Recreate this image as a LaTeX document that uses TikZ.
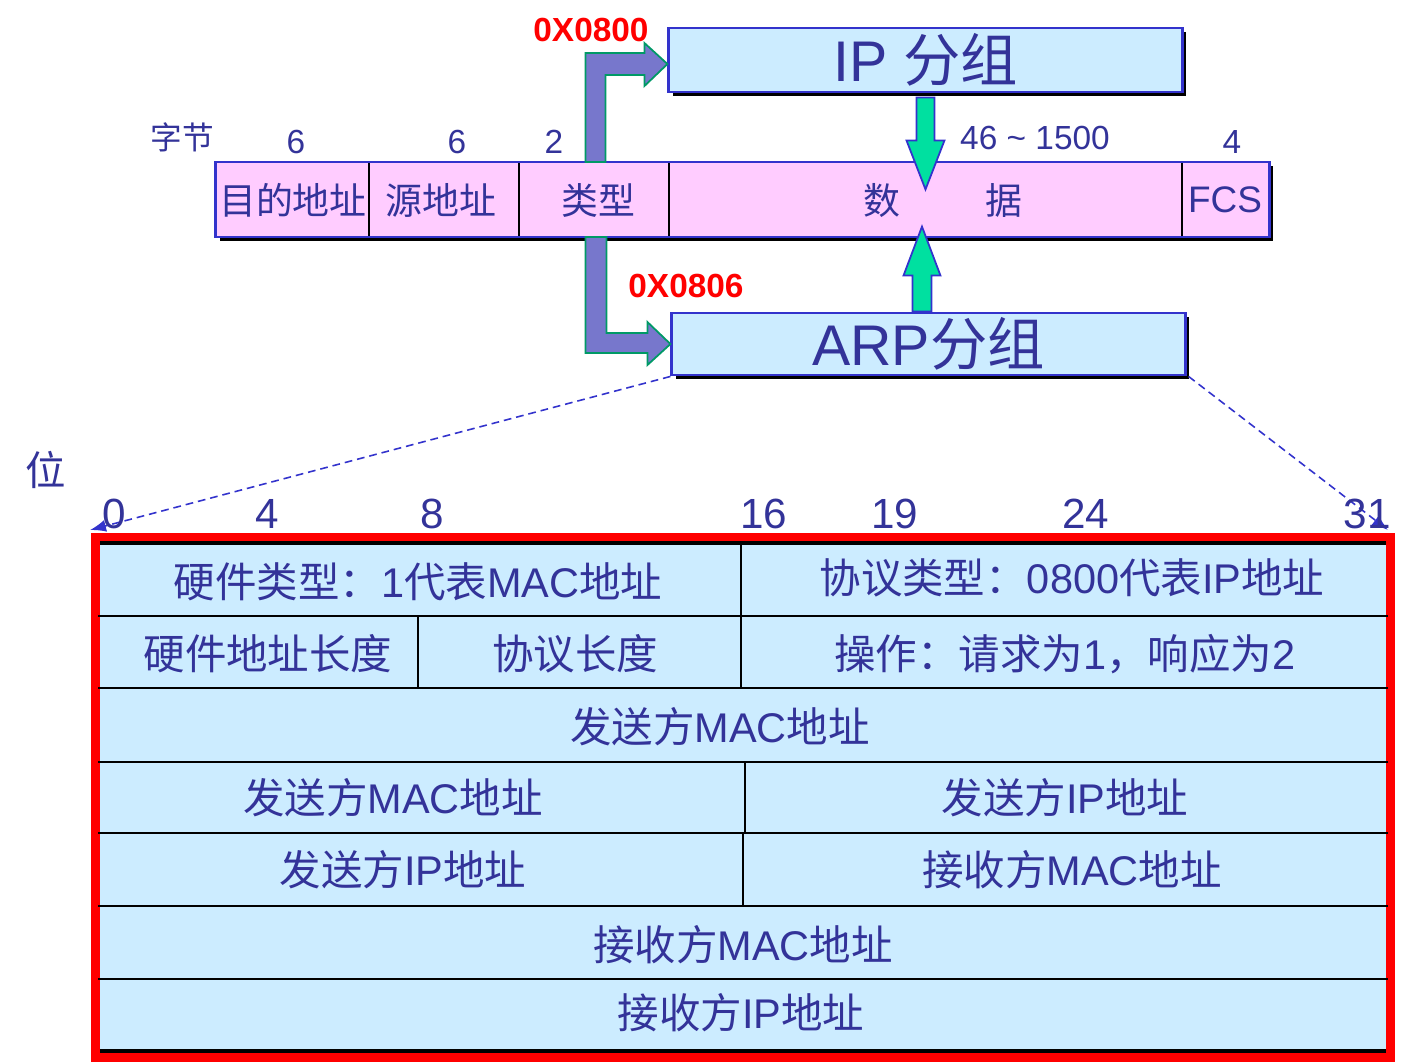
\documentclass[tikz,border=0pt]{standalone}
\usepackage{fontspec}
\setmainfont{Liberation Sans}
\newfontfamily\cjk{Noto Sans CJK SC}
\usetikzlibrary{arrows.meta, shadows}
\definecolor{txtblue}{RGB}{51,51,153}
\definecolor{boxblue}{RGB}{51,51,204}
\definecolor{framepink}{RGB}{255,204,255}
\definecolor{cellblue}{RGB}{204,236,255}
\definecolor{typepurple}{RGB}{119,119,204}
\definecolor{typeedge}{RGB}{0,153,102}
\definecolor{datagreen}{RGB}{0,224,160}
\newcommand{\zh}[1]{{\cjk #1}}
\newcommand{\fsz}[1]{\fontsize{#1}{#1}\selectfont}
\tikzset{
  blkshadow/.style={general shadow={fill=black, shadow xshift=0.04cm, shadow yshift=-0.04cm}},
  framebox/.style={draw=boxblue, line width=0.8pt, fill=framepink, blkshadow, inner sep=0pt},
  pktbox/.style={draw=boxblue, line width=0.8pt, fill=cellblue, blkshadow, inner sep=0pt, minimum width=5.13cm, font=\fsz{16.3}},
  divline/.style={black, line width=0.6pt},
  typearr/.style={fill=typepurple, draw=typeedge, line width=0.5pt},
  dataarr/.style={fill=datagreen, draw=boxblue, line width=0.5pt},
  zoomline/.style={draw=boxblue, dash pattern=on 2.2pt off 1.4pt, line width=0.45pt, -{Latex[length=1.6mm, width=1.2mm]}},
  hexlbl/.style={text=red, font=\fsz{9.5}\bfseries},
  sizelbl/.style={font=\fsz{9.5}},
  bitlbl/.style={font=\fsz{12}},
  fieldtxt/.style={font=\fsz{11.8}},
}
\begin{document}
\begin{tikzpicture}[x=0.01cm, y=-0.01cm, font=\fsz{10.5}, text=txtblue]
\useasboundingbox (0,0) rectangle (1417,1062);
% ethernet frame
\node[framebox, minimum width=10.53cm, minimum height=0.75cm] (frame) at (742.5,199.5) {};
\foreach \dx in {369,519,669,1182} \draw[divline] (\dx,163) -- (\dx,236);
\node (dst) at (293,200) {\zh{目的地址}};
\node (src) at (441,200) {\zh{源地址}};
\node (typ) at (598,200) {\zh{类型}};
\node (dat1) at (882,200) {\zh{数}};
\node (dat2) at (1004,200) {\zh{据}};
\node (fcs) at (1225,200) {FCS};
\node[font=\fsz{9}] (bytes) at (182,137) {\zh{字节}};
\node[sizelbl] (sz1) at (296,142) {6};
\node[sizelbl] (sz2) at (457,142) {6};
\node[sizelbl] (sz3) at (554,142) {2};
\node[sizelbl] (sz4) at (1035,138) {46 \textasciitilde{} 1500};
\node[sizelbl] (sz5) at (1232,142) {4};
% upper layer packets
\node[pktbox, minimum height=0.64cm] (ip) at (925.5,60) {IP \zh{分组}};
\node[pktbox, minimum height=0.62cm] (arp) at (928.5,344) {ARP\zh{分组}};
\node[hexlbl] (hexip) at (591,30) {0X0800};
\node[hexlbl] (hexarp) at (686,286) {0X0806};
% type arrows
\draw[typearr] ([yshift=-0.04cm]ip.west) -- ++(-23,22) -- ++(0,-11) -- ++(-39,0) -- ++(0,87)
  -- ++(-20,0) -- ++(0,-109) -- ++(59,0) -- ++(0,-10) -- cycle;
\draw[typearr] (arp.west) -- ++(-23,-22) -- ++(0,11) -- ++(-41,0) -- ++(0,-96)
  -- ++(-21,0) -- ++(0,116) -- ++(62,0) -- ++(0,12) -- cycle;
% data arrows
\draw[dataarr] ([xshift=-0.09cm, yshift=-0.04cm]ip.south) -- ++(0,43) -- ++(-10,0) -- ++(19,49)
  -- ++(19,-49) -- ++(-10,0) -- ++(0,-43) -- cycle;
\draw[dataarr] ([xshift=-0.16cm]arp.north) -- ++(0,-36) -- ++(-9,0) -- ++(18.5,-49)
  -- ++(18.5,49) -- ++(-9,0) -- ++(0,36) -- cycle;
% ARP format
\coordinate (bit0) at (90,530);
\coordinate (bit31) at (1388,530);
\draw[zoomline] (arp.south west) -- (bit0);
\draw[zoomline] ([xshift=0.02cm]arp.south east) -- (bit31);
\node[font=\fsz{11.5}] (bits) at (46,470) {\zh{位}};
\foreach \bx/\bn in {114/0, 267/4, 432/8, 764/16, 895/19, 1086/24, 1367/31}
  \node[bitlbl] (b\bn) at (\bx,514) {\bn};
\draw[fill=cellblue, draw=red, line width=2.56pt] (95.5,537.5) rectangle (1390.5,1057.5);
\draw[black, line width=0.9pt] (100,543) -- (1386,543);
\draw[black, line width=1.2pt] (100,1051) -- (1386,1051);
\foreach \ry in {616,688,762,833,906,979} \draw[divline] (98,\ry) -- (1388,\ry);
\draw[divline] (741,543) -- (741,688);
\draw[divline] (418,616) -- (418,688);
\draw[divline] (745,762) -- (745,833);
\draw[divline] (743,833) -- (743,906);
\node[fieldtxt] (hwtype) at (418,582) {\zh{硬件类型：}1\zh{代表}MAC\zh{地址}};
\node[fieldtxt] (prtype) at (1072,578) {\zh{协议类型：}0800\zh{代表}IP\zh{地址}};
\node[fieldtxt] (hwlen) at (268,654) {\zh{硬件地址长度}};
\node[fieldtxt] (prlen) at (575,654) {\zh{协议长度}};
\node[fieldtxt] (oper) at (1065,654) {\zh{操作：请求为}1\zh{，响应为}2};
\node[fieldtxt] (sha1) at (720,727) {\zh{发送方}MAC\zh{地址}};
\node[fieldtxt] (sha2) at (393,798) {\zh{发送方}MAC\zh{地址}};
\node[fieldtxt] (spa1) at (1065,798) {\zh{发送方}IP\zh{地址}};
\node[fieldtxt] (spa2) at (403,870) {\zh{发送方}IP\zh{地址}};
\node[fieldtxt] (tha1) at (1072,870) {\zh{接收方}MAC\zh{地址}};
\node[fieldtxt] (tha2) at (743,945) {\zh{接收方}MAC\zh{地址}};
\node[fieldtxt] (tpa) at (741,1013) {\zh{接收方}IP\zh{地址}};
\end{tikzpicture}
\end{document}
